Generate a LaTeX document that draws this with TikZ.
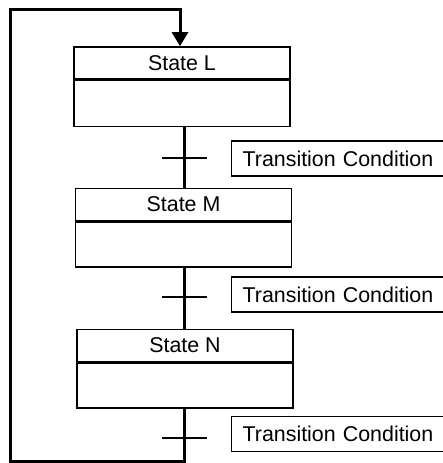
\documentclass[tikz,border=0pt]{standalone}
\usepackage{fontspec}
\setmainfont{Liberation Sans}
\usetikzlibrary{arrows.meta}
\begin{document}
\begin{tikzpicture}[x=1pt,y=-1pt,
  every node/.style={font=\fontsize{21.4}{25}\selectfont},
  hdr/.style={draw=black, line width=1.6pt, minimum width=216pt, minimum height=32pt, inner sep=0pt},
  body/.style={draw=black, line width=1.6pt, minimum width=216pt, minimum height=46pt, inner sep=0pt, anchor=north},
  tc/.style={draw=black, line width=1.2pt, anchor=west, text width=240pt, align=left, inner xsep=11pt, minimum height=35pt, inner ysep=0pt},
  conn/.style={line width=3pt, black},
  tick/.style={line width=1.2pt, black},
  loopline/.style={line width=3pt, black, line join=miter}
]
\useasboundingbox (0,0) rectangle (443,463);
% states
\node[hdr] (L) at (182,63) {State L};
\node[body] (Lb) at (L.south) {};
\node[hdr] (M) at (183.5,204.5) {State M};
\node[body, minimum height=45pt] (Mb) at (M.south) {};
\node[hdr] (N) at (185,345.5) {State N};
\node[body, minimum height=45pt] (Nb) at (N.south) {};
% transition conditions
\node[tc] (T1) at (231,158.5) {Transition Condition};
\node[tc] (T2) at (231,294.5) {Transition Condition};
\node[tc] (T3) at (231,434) {Transition Condition};
% connectors
\coordinate (x1) at (184,0);
\draw[conn] (Lb.south -| x1) -- (M.north -| x1);
\draw[conn] (Mb.south -| x1) -- (N.north -| x1);
% ticks
\coordinate (k1) at (184,158);
\coordinate (k2) at (184,297);
\coordinate (k3) at (184,438);
\draw[tick] ([xshift=-22pt]k1) -- ([xshift=23pt]k1);
\draw[tick] ([xshift=-22pt]k2) -- ([xshift=23pt]k2);
\draw[tick] ([xshift=-22pt]k3) -- ([xshift=23pt]k3);
% loop back
\coordinate (c1) at (10,461);
\coordinate (c3) at (180,9.5);
\draw[loopline, -{Triangle[width=16pt,length=14pt]}]
  (Nb.south -| x1) |- (c1) |- (c3) -- (L.north -| c3);
\end{tikzpicture}
\end{document}
